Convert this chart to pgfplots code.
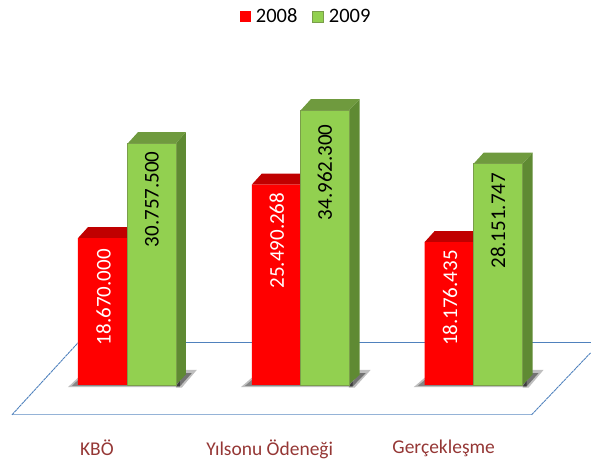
\documentclass[border=0pt]{standalone}
\usepackage{fontspec}
\setmainfont{Carlito}
\usepackage{pgfplots}
\pgfplotsset{compat=1.18}

\definecolor{redfront}{HTML}{FF0000}
\definecolor{redtop}{HTML}{C00000}
\definecolor{greenfront}{HTML}{92D050}
\definecolor{greenedge}{HTML}{7A9E4A}
\definecolor{greenside}{HTML}{5F8A33}
\definecolor{greentop}{HTML}{6F9A3E}
\definecolor{floorback}{HTML}{4F81BD}
\definecolor{floorfront}{HTML}{95B3D7}
\definecolor{catlabel}{HTML}{953735}

\pgfplotsset{
    barlabel/.style={
        visualization depends on={\thisrow{shift}\as\lblshift},
        visualization depends on={\thisrow{side}\as\lblside},
        nodes near coords,
        every node near coord/.append style={
            yshift=-\lblshift pt, xshift=\lblside pt, rotate=90, anchor=east, inner sep=0pt,
            font=\fontsize{21}{21}\selectfont},
    },
}

\begin{document}
\begin{tikzpicture}
\begin{axis}[
    scale only axis,
    width=591pt, height=464pt,
    xmin=0, xmax=591,
    ymin=-10.051, ymax=48.982,
    clip=false,
    axis line style={draw=none},
    major tick length=0pt,
    ytick=\empty,
    xtick={97,270,444},
    xticklabels={KBÖ,Yılsonu Ödeneği,Gerçekleşme},
    xticklabel style={font=\fontsize{19.5}{20}\selectfont, text=catlabel, yshift=27.5pt},
    legend columns=2,
    legend image code/.code={\fill[#1] (0pt,-5.5pt) rectangle (11pt,5.5pt);},
    legend style={at={(0.5185,0.965)}, anchor=center, draw=none, fill=none,
        font=\fontsize{20.5}{20}\selectfont, inner sep=0pt,
        /tikz/column 1/.style={column sep=3pt},
        /tikz/column 2/.style={column sep=13pt},
        /tikz/column 3/.style={column sep=3pt}},
    point meta=explicit symbolic,
]
% floor
\addplot[floorback, line width=0.9pt, forget plot] coordinates {(78,5.344)(591,5.344)};
\addplot[floorfront, line width=0.9pt, forget plot] coordinates {(12,-3.817)(532,-3.817)};
\addplot[floorback, line width=0.9pt, dash pattern=on 3pt off 0.6pt, forget plot] coordinates {(12,-3.817)(78,5.344)};
\addplot[floorback, line width=0.9pt, dash pattern=on 3pt off 0.6pt, forget plot] coordinates {(532,-3.817)(591,4.071)};

% shadows
\addplot[fill=black, opacity=0.25, draw=none, forget plot] coordinates {(68,-0.3)(78,0.9)(180,0.9)(180,-0.3)};
\addplot[fill=black, opacity=0.3, draw=none, forget plot] coordinates {(72,-0.15)(78,0.6)(180,0.6)(180,-0.15)};
\addplot[fill=black, opacity=0.25, draw=none, forget plot] coordinates {(176,-0.35)(182,-0.35)(197,1.9)(186,1.9)};
\addplot[fill=black, opacity=0.4, draw=none, forget plot] coordinates {(176,-0.2)(180,-0.2)(192,1.5)(186,1.5)};
\addplot[fill=black, opacity=0.25, draw=none, forget plot] coordinates {(241,-0.3)(252,0.9)(353,0.9)(353,-0.3)};
\addplot[fill=black, opacity=0.3, draw=none, forget plot] coordinates {(245,-0.15)(252,0.6)(353,0.6)(353,-0.15)};
\addplot[fill=black, opacity=0.25, draw=none, forget plot] coordinates {(349,-0.35)(355,-0.35)(371,1.9)(360,1.9)};
\addplot[fill=black, opacity=0.4, draw=none, forget plot] coordinates {(349,-0.2)(353,-0.2)(366,1.5)(360,1.5)};
\addplot[fill=black, opacity=0.25, draw=none, forget plot] coordinates {(414,-0.3)(425,0.9)(527,0.9)(527,-0.3)};
\addplot[fill=black, opacity=0.3, draw=none, forget plot] coordinates {(418,-0.15)(425,0.6)(527,0.6)(527,-0.15)};
\addplot[fill=black, opacity=0.25, draw=none, forget plot] coordinates {(523,-0.35)(529,-0.35)(544,1.9)(533,1.9)};
\addplot[fill=black, opacity=0.4, draw=none, forget plot] coordinates {(523,-0.2)(527,-0.2)(539,1.5)(533,1.5)};

% KBO
\addplot[fill=redtop, draw=none, forget plot] coordinates {(78,18.670)(128,18.670)(138,20.07)(88,20.07)};
\addplot[fill=greenside, draw=none, forget plot] coordinates {(176,0)(186,1.3)(186,32.16)(176,30.758)};
\addplot[fill=greentop, draw=none, forget plot] coordinates {(128,30.758)(176,30.758)(186,32.16)(138,32.16)};
% Yilsonu
\addplot[fill=redtop, draw=none, forget plot] coordinates {(252,25.490)(301,25.490)(311,26.89)(262,26.89)};
\addplot[fill=greenside, draw=none, forget plot] coordinates {(349,0)(360,1.3)(360,36.36)(349,34.962)};
\addplot[fill=greentop, draw=none, forget plot] coordinates {(301,34.962)(349,34.962)(360,36.36)(311,36.36)};
% Gerceklesme
\addplot[fill=redtop, draw=none, forget plot] coordinates {(425,18.176)(474,18.176)(484,19.58)(435,19.58)};
\addplot[fill=greenside, draw=none, forget plot] coordinates {(523,0)(533,1.3)(533,29.55)(523,28.152)};
\addplot[fill=greentop, draw=none, forget plot] coordinates {(474,28.152)(523,28.152)(533,29.55)(484,29.55)};

% front faces
\addplot[ybar, bar width=49pt, bar shift=0pt, fill=redfront, draw=none, barlabel,
    every node near coord/.append style={text=white}]
    table[x=x, y=y, meta=lbl] {
    x y lbl shift side
    102.5 18.670 18.670.000 11 1
    276.5 25.490 25.490.268 8 0.5
    449.5 18.176 18.176.435 8 1
    };
\addlegendentry{2008}
\addplot[ybar, bar width=49pt, bar shift=0pt, fill=greenfront, draw=greenedge, line width=0.4pt, barlabel,
    every node near coord/.append style={text=black}]
    table[x=x, y=y, meta=lbl] {
    x y lbl shift side
    152 30.758 30.757.500 8 0
    325 34.962 34.962.300 14 0
    498.5 28.152 28.151.747 9 0
    };
\addlegendentry{2009}
\end{axis}
\end{tikzpicture}
\end{document}
